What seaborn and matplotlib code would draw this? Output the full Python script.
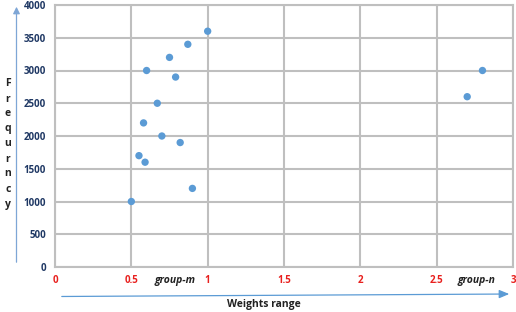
import matplotlib
matplotlib.use("Agg")
import matplotlib.pyplot as plt
import seaborn as sns
import pandas as pd

weights = [0.5, 0.55, 0.58, 0.59, 0.60, 0.67, 0.70, 0.75, 0.79, 0.82, 0.87, 0.90, 1.0, 2.70, 2.80]
frequency = [1000, 1700, 2200, 1600, 3000, 2500, 2000, 3200, 2900, 1900, 3400, 1200, 3600, 2600, 3000]
x_ticks = [0, 0.5, 1, 1.5, 2, 2.5, 3]
x_tick_labels = ["0", "0.5", "1", "1.5", "2", "2.5", "3"]
y_ticks = [0, 500, 1000, 1500, 2000, 2500, 3000, 3500, 4000]
group_labels = ["group-m", "group-n"]
group_pos = [0.786, 2.76]

df = pd.DataFrame({"Weights": weights, "Frequency": frequency})

sns.set_style("white")
plt.rcParams['font.family'] = ['Open Sans', 'DejaVu Sans']

fig = plt.figure(figsize=(5.16, 3.12), dpi=100)
ax = fig.add_axes([55/516, 45/312, 458/516, 262/312])

sns.scatterplot(data=df, x="Weights", y="Frequency", ax=ax, color="#5B9BD5",
                s=28, edgecolor="none", zorder=3)

ax.set_xlim(0, 3)
ax.set_ylim(0, 4000)
ax.set_xticks(x_ticks)
ax.set_xticklabels(x_tick_labels, color="#E8201E", fontweight="bold", fontsize=7)
ax.set_yticks(y_ticks)
ax.set_yticklabels([str(v) for v in y_ticks], color="#1F3864", fontweight="bold", fontsize=7)
ax.tick_params(axis="both", length=0)
ax.tick_params(axis="x", pad=6)
ax.tick_params(axis="y", pad=6.5)
ax.grid(True, color="#BFBFBF", linewidth=1.5, zorder=0)
ax.set_axisbelow(True)
for s in ax.spines.values():
    s.set_color("#BFBFBF")
    s.set_linewidth(1.5)
ax.set_xlabel("")
ax.set_ylabel("")

for lbl, xp in zip(group_labels, group_pos):
    ax.text(xp, -0.052, lbl, transform=ax.get_xaxis_transform(), ha="center", va="center",
            fontsize=7.5, fontstyle="italic", fontweight="bold", color="#222222")

# y label stacked letters
letters = list("Frequrncy")
for i, ch in enumerate(letters):
    fig.text(8/516, 1 - (84 + i*15)/312, ch, ha="center", va="center",
             fontsize=7.5, fontweight="bold", color="#222222")

fig.text(264/516, 1 - 305/312, "Weights range", ha="center", va="center",
         fontsize=7.5, fontweight="bold", color="#222222")

# arrows
fig.patches.append(matplotlib.patches.FancyArrowPatch(
    (16.5/516, 1 - 265/312), (16.5/516, 1 - 4/312), transform=fig.transFigure,
    arrowstyle="-|>,head_length=4,head_width=2", color="#7EA6D6", lw=0.9, mutation_scale=1))
fig.patches.append(matplotlib.patches.FancyArrowPatch(
    (59/516, 1 - 296.5/312), (512/516, 1 - 294/312), transform=fig.transFigure,
    arrowstyle="-|>,head_length=6,head_width=2.5", color="#5B9BD5", lw=0.9, mutation_scale=1))

fig.savefig("out.png", dpi=100)
